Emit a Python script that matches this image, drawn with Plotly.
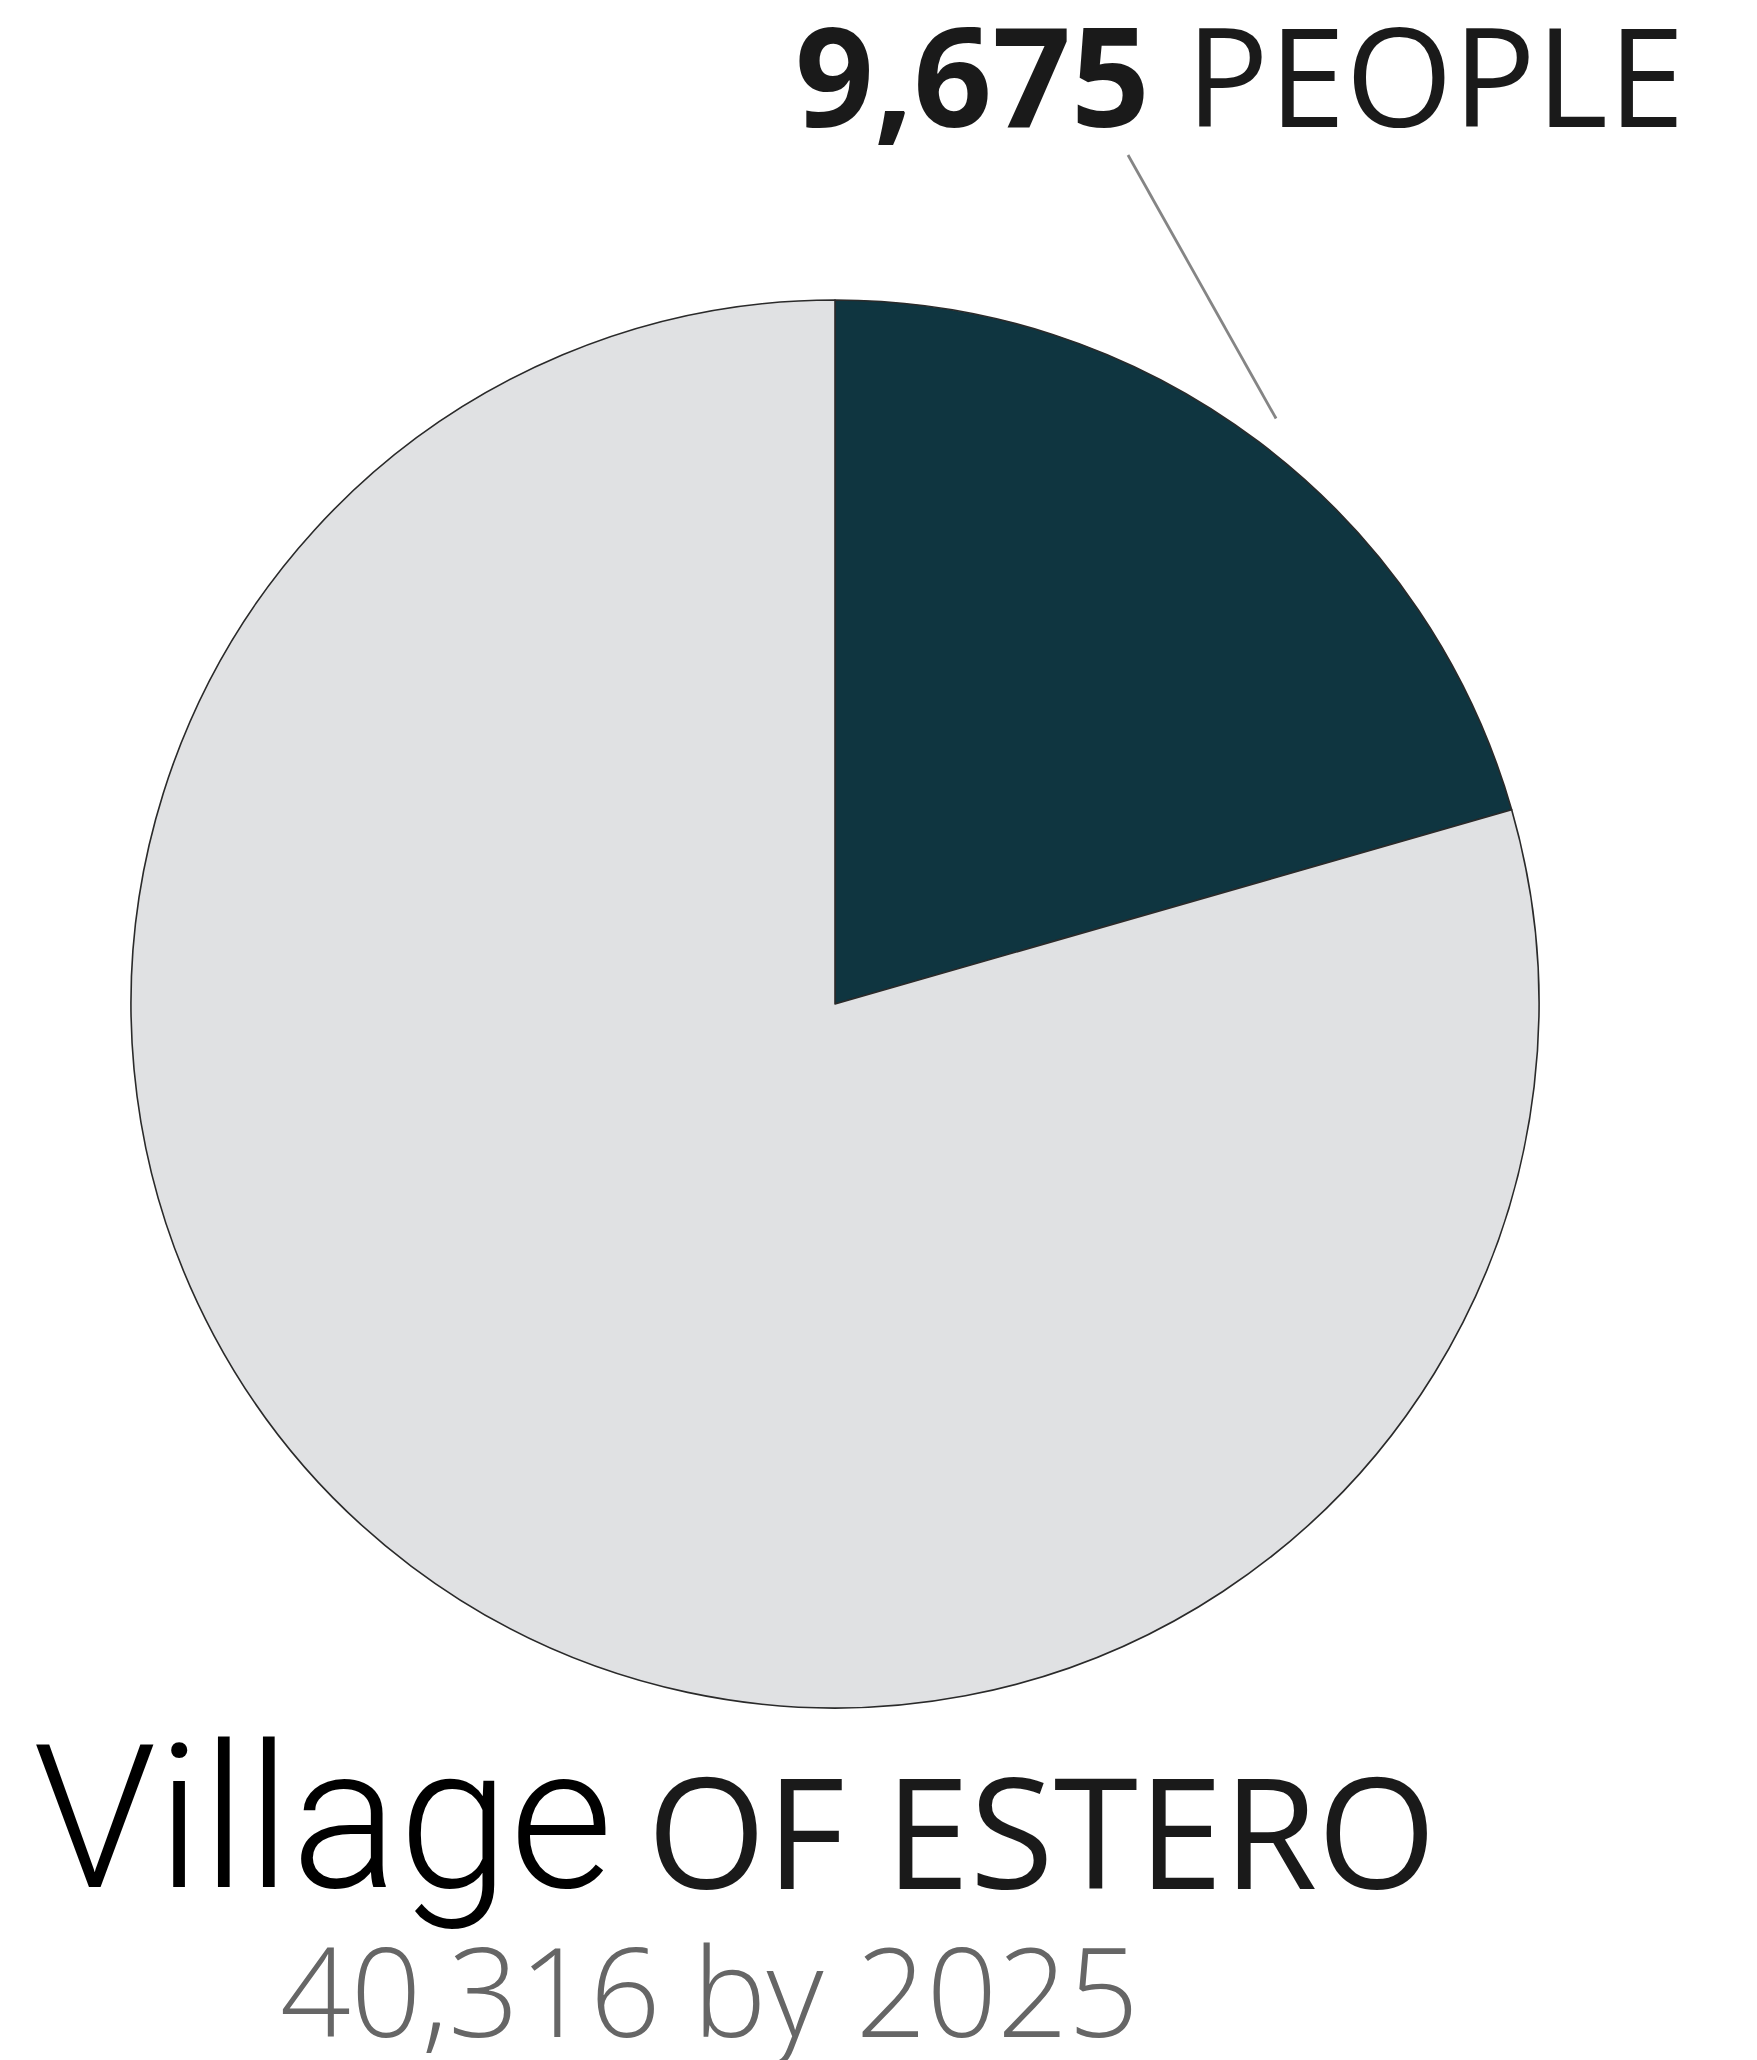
import math
import plotly.graph_objects as go

# Population split shown in the pie
labels = ["Group", "Rest of village"]
values = [9675, 37400]
slice_colors = ["#0f3540", "#e0e1e3"]

headline_value = "9,675"
headline_unit = "PEOPLE"
title_main = "Village"
title_rest = "OF ESTERO"
subtitle = "40,316 by 2025"

W, H = 1757, 2060
cx, cy, r = 835, 1004, 704  # pie centre / radius in pixels


def px(x):
    return x / W


def py(y):
    return 1 - y / H


fig = go.Figure(
    go.Pie(
        labels=labels,
        values=values,
        sort=False,
        direction="clockwise",
        rotation=0,
        textinfo="none",
        hoverinfo="skip",
        showlegend=False,
        marker=dict(colors=slice_colors, line=dict(color="#2a2a2a", width=1.6)),
        domain=dict(x=[px(cx - r), px(cx + r)], y=[py(cy + r), py(cy - r)]),
    )
)

# Leader line from the headline to the dark slice (aimed at the slice middle)
frac = values[0] / sum(values)
mid = math.radians(frac * 360 / 2)
end_x = cx + (r + 29) * math.sin(mid)
end_y = cy - (r + 29) * math.cos(mid)
fig.add_shape(
    type="line", xref="paper", yref="paper",
    x0=px(1128), y0=py(155), x1=px(end_x), y1=py(end_y),
    line=dict(color="#858585", width=2.8),
)

fig.add_annotation(
    x=px(793), y=py(73), xref="paper", yref="paper",
    xanchor="left", yanchor="middle", showarrow=False,
    text=f"<b>{headline_value}</b> {headline_unit}",
    font=dict(family="Open Sans", size=138, color="#1a1a1a"),
)
fig.add_annotation(
    x=px(31), y=py(1818), xref="paper", yref="paper",
    xanchor="left", yanchor="middle", showarrow=False,
    text=title_main,
    font=dict(family="Roboto", size=200, color="#000000", weight=300),
)
fig.add_annotation(
    x=px(645), y=py(1829), xref="paper", yref="paper",
    xanchor="left", yanchor="middle", showarrow=False,
    text=title_rest,
    font=dict(family="Open Sans", size=153, color="#1a1a1a"),
)
fig.add_annotation(
    x=px(278), y=py(1988), xref="paper", yref="paper",
    xanchor="left", yanchor="middle", showarrow=False,
    text=subtitle,
    font=dict(family="Open Sans", size=124, color="#666666", weight=300),
)

fig.update_layout(
    width=W, height=H,
    margin=dict(l=0, r=0, t=0, b=0),
    paper_bgcolor="white", plot_bgcolor="white",
)

fig.write_html("out.html")
